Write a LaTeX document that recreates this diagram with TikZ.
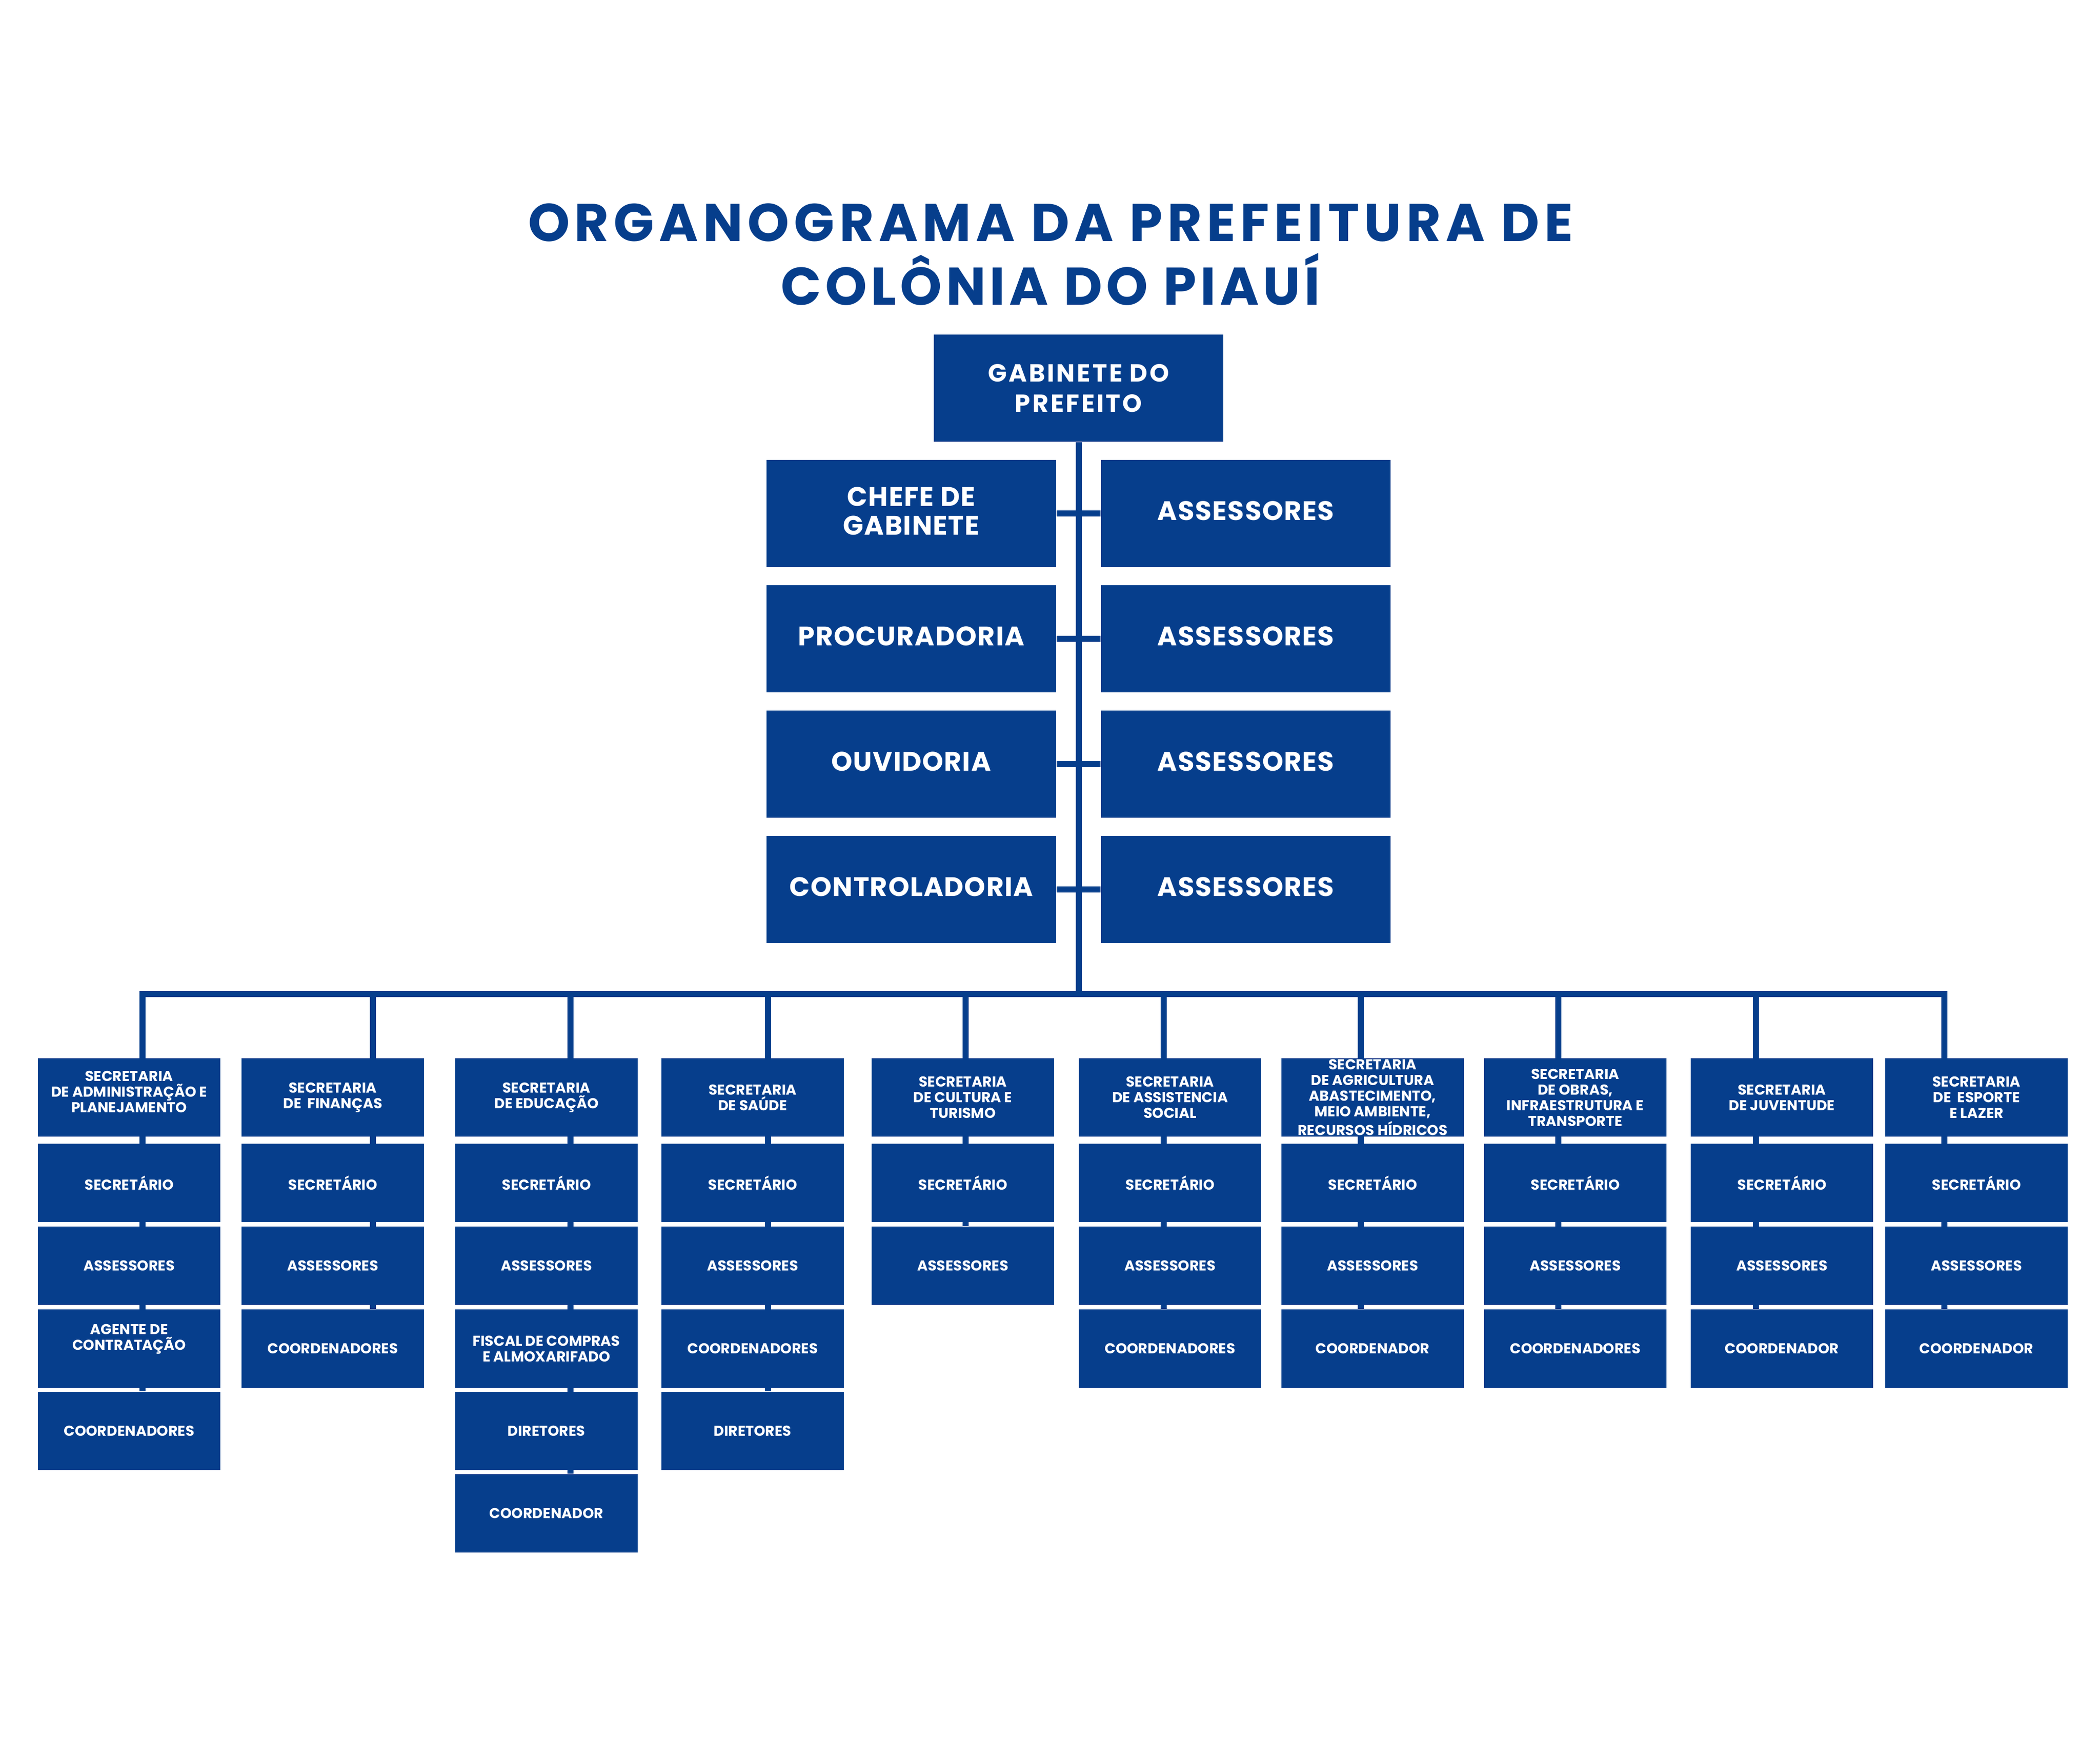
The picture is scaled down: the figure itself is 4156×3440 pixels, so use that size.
\documentclass[tikz,border=0pt]{standalone}
\usepackage{fontspec}
\setmainfont{Poppins}
\newfontfamily\titlefont{Poppins}[LetterSpace=7.5]
\newfontfamily\titlefontwide{Poppins}[LetterSpace=9]
\newfontfamily\gabfont{Poppins}[LetterSpace=8]
\newfontfamily\topfont{Poppins}[LetterSpace=3]
\definecolor{orgblue}{RGB}{6,62,140}
\newdimen\pxu \pxu=0.2pt
\pgfdeclarelayer{bg}
\pgfdeclarelayer{conns}
\pgfsetlayers{bg,conns,main}
\begin{document}
\begin{tikzpicture}[x=0.2pt,y=-0.2pt,
  orgbox/.style={fill=orgblue,text=white,inner sep=0pt,anchor=north west,align=center},
  gabbox/.style={orgbox,minimum width=573\pxu,minimum height=212\pxu,font=\gabfont\fontsize{9.8}{12}\selectfont\bfseries},
  topbox/.style={orgbox,minimum width=573\pxu,minimum height=212\pxu,text depth=10\pxu,font=\topfont\fontsize{10.6}{11.4}\selectfont\bfseries},
  subbox/.style={orgbox,minimum width=361\pxu,minimum height=155\pxu,font=\fontsize{5.7}{6.2}\selectfont\bfseries},
  conn/.style={draw=orgblue,line width=12\pxu},
  titletext/.style={text=orgblue,font=\titlefont\fontsize{21}{24.8}\selectfont\bfseries,anchor=base,inner sep=0pt}]
\useasboundingbox (0,0) rectangle (4156,3440);
\begin{pgfonlayer}{bg}
\fill[white] (0,0) rectangle (4156,3440);
\end{pgfonlayer}
% title
\node[titletext,font=\titlefontwide\fontsize{21}{24.8}\selectfont\bfseries] (t1) at (2079,477) {ORGANOGRAMA DA PREFEITURA DE};
\node[titletext] (t2) at (2079,603) {COLÔNIA DO PIAUÍ};
% upper block
\node[gabbox] (gab) at (1847,661) {GABINETE DO\\PREFEITO};
\node[topbox] (l1) at (1516,909) {CHEFE DE\\GABINETE};
\node[topbox] (l2) at (1516,1157) {PROCURADORIA};
\node[topbox] (l3) at (1516,1405) {OUVIDORIA};
\node[topbox] (l4) at (1516,1653) {CONTROLADORIA};
\node[topbox] (r1) at (2178,909) {ASSESSORES};
\node[topbox] (r2) at (2178,1157) {ASSESSORES};
\node[topbox] (r3) at (2178,1405) {ASSESSORES};
\node[topbox] (r4) at (2178,1653) {ASSESSORES};
% column a
\node[subbox,text depth=22\pxu] (a1) at (74,2093) {SECRETARIA\\DE ADMINISTRAÇÃO E\\PLANEJAMENTO};
\node[subbox] (a2) at (74,2262) {SECRETÁRIO};
\node[subbox] (a3) at (74,2426) {ASSESSORES};
\node[subbox,text depth=45\pxu] (a4) at (74,2590) {AGENTE DE\\CONTRATAÇÃO};
\node[subbox] (a5) at (74,2753) {COORDENADORES};
% column b
\node[subbox] (b1) at (477,2093) {SECRETARIA\\DE \ FINANÇAS};
\node[subbox] (b2) at (477,2262) {SECRETÁRIO};
\node[subbox] (b3) at (477,2426) {ASSESSORES};
\node[subbox] (b4) at (477,2590) {COORDENADORES};
% column c
\node[subbox] (c1) at (900,2093) {SECRETARIA\\DE EDUCAÇÃO};
\node[subbox] (c2) at (900,2262) {SECRETÁRIO};
\node[subbox] (c3) at (900,2426) {ASSESSORES};
\node[subbox] (c4) at (900,2590) {FISCAL DE COMPRAS\\E ALMOXARIFADO};
\node[subbox] (c5) at (900,2753) {DIRETORES};
\node[subbox] (c6) at (900,2916) {COORDENADOR};
% column d
\node[subbox] (d1) at (1308,2093) {SECRETARIA\\DE SAÚDE};
\node[subbox] (d2) at (1308,2262) {SECRETÁRIO};
\node[subbox] (d3) at (1308,2426) {ASSESSORES};
\node[subbox] (d4) at (1308,2590) {COORDENADORES};
\node[subbox] (d5) at (1308,2753) {DIRETORES};
% column e
\node[subbox] (e1) at (1724,2093) {SECRETARIA\\DE CULTURA E\\TURISMO};
\node[subbox] (e2) at (1724,2262) {SECRETÁRIO};
\node[subbox] (e3) at (1724,2426) {ASSESSORES};
% column f
\node[subbox] (f1) at (2134,2093) {SECRETARIA\\DE ASSISTENCIA\\SOCIAL};
\node[subbox] (f2) at (2134,2262) {SECRETÁRIO};
\node[subbox] (f3) at (2134,2426) {ASSESSORES};
\node[subbox] (f4) at (2134,2590) {COORDENADORES};
% column g
\node[subbox] (g1) at (2535,2093) {SECRETARIA\\DE AGRICULTURA\\ABASTECIMENTO,\\MEIO AMBIENTE,\\RECURSOS HÍDRICOS};
\node[subbox] (g2) at (2535,2262) {SECRETÁRIO};
\node[subbox] (g3) at (2535,2426) {ASSESSORES};
\node[subbox] (g4) at (2535,2590) {COORDENADOR};
% column h
\node[subbox] (h1) at (2936,2093) {SECRETARIA\\DE OBRAS,\\INFRAESTRUTURA E\\TRANSPORTE};
\node[subbox] (h2) at (2936,2262) {SECRETÁRIO};
\node[subbox] (h3) at (2936,2426) {ASSESSORES};
\node[subbox] (h4) at (2936,2590) {COORDENADORES};
% column i
\node[subbox] (i1) at (3345,2093) {SECRETARIA\\DE JUVENTUDE};
\node[subbox] (i2) at (3345,2262) {SECRETÁRIO};
\node[subbox] (i3) at (3345,2426) {ASSESSORES};
\node[subbox] (i4) at (3345,2590) {COORDENADOR};
% column j
\node[subbox] (j1) at (3730,2093) {SECRETARIA\\DE \ ESPORTE\\E LAZER};
\node[subbox] (j2) at (3730,2262) {SECRETÁRIO};
\node[subbox] (j3) at (3730,2426) {ASSESSORES};
\node[subbox] (j4) at (3730,2590) {COORDENADOR};
% bus coordinates
\coordinate (s1) at (282,1967);
\coordinate (s2) at (738,1967);
\coordinate (s3) at (1129,1967);
\coordinate (s4) at (1520,1967);
\coordinate (s5) at (1911,1967);
\coordinate (s6) at (2303,1967);
\coordinate (s7) at (2693,1967);
\coordinate (s8) at (3084,1967);
\coordinate (s9) at (3475,1967);
\coordinate (s10) at (3848,1967);
\begin{pgfonlayer}{conns}
\draw[conn] (gab.south) -- (gab.south |- s1);
\draw[conn] (l1.east) -- (r1.west);
\draw[conn] (l2.east) -- (r2.west);
\draw[conn] (l3.east) -- (r3.west);
\draw[conn] (l4.east) -- (r4.west);
\draw[conn,line join=miter] (a5.north -| s1) -- (s1) -- (s10) -- (j4.north -| s10);
\draw[conn] (s2) -- (b4.north -| s2);
\draw[conn] (s3) -- (c6.north -| s3);
\draw[conn] (s4) -- (d5.north -| s4);
\draw[conn] (s5) -- (e3.north -| s5);
\draw[conn] (s6) -- (f4.north -| s6);
\draw[conn] (s7) -- (g4.north -| s7);
\draw[conn] (s8) -- (h4.north -| s8);
\draw[conn] (s9) -- (i4.north -| s9);
\end{pgfonlayer}
\end{tikzpicture}
\end{document}
